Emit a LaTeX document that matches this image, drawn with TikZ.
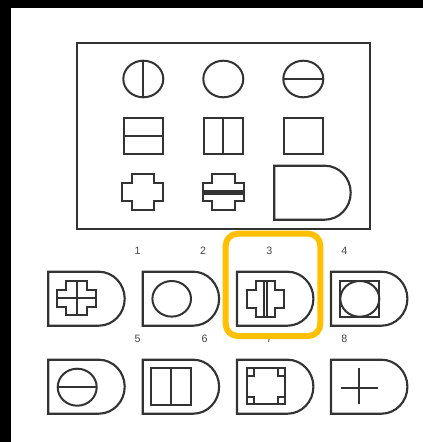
\documentclass[tikz,border=0pt]{standalone}
\usepackage{fontspec}
\setmainfont{Liberation Sans}
\definecolor{ink}{HTML}{333333}
\definecolor{lbl}{HTML}{444444}
\definecolor{hl}{HTML}{FFC000}
\newcommand{\DShp}[2]{\draw[shp] (#1,#2) -- ++(50.4,0) arc[start angle=-90,end angle=90,x radius=26,y radius=27] -- ++(-50.4,0) -- cycle;}
\newcommand{\CrossPath}[4]{(-#2,-#1) -- (#2,-#1) -- (#2,-#4) -- (#3,-#4) -- (#3,#4) -- (#2,#4) -- (#2,#1) -- (-#2,#1) -- (-#2,#4) -- (-#3,#4) -- (-#3,-#4) -- (-#2,-#4) -- cycle}
\begin{document}
\begin{tikzpicture}[x=0.75pt,y=-0.75pt,
  shp/.style={draw=ink,line width=1.6pt},
  inr/.style={draw=ink,line width=1.5pt},
  num/.style={font=\fontsize{8}{9}\selectfont,text=lbl,inner sep=0pt}]
\useasboundingbox (0,0) rectangle (423,442);
\fill[black] (0,0) rectangle (423,8);
\fill[black] (0,0) rectangle (11,442);
% top box
\draw[shp] (76.7,42.7) rectangle (369.7,228.7);
% row 1 circles
\draw[inr] (143.3,79) ellipse[x radius=20,y radius=18.3];
\draw[inr] (143.3,60.7) -- (143.3,97.3);
\draw[inr] (223.3,79) ellipse[x radius=20,y radius=18.3];
\draw[inr] (303.3,79) ellipse[x radius=20,y radius=18.3];
\draw[inr] (283.3,79) -- (323.3,79);
% row 2 squares
\draw[inr] (123.7,117.7) rectangle (163,154);
\draw[inr] (123.7,136) -- (163,136);
\draw[inr] (203.7,117.7) rectangle (243,154);
\draw[inr] (223.3,117.7) -- (223.3,154);
\draw[inr] (283.7,117.7) rectangle (323,154);
% row 3 crosses
\draw[inr,shift={(142.8,192)}] \CrossPath{18}{11.3}{20.5}{9.2};
\draw[inr,shift={(223.3,192)}] \CrossPath{18}{11.3}{20.5}{9.2};
\fill[ink] (202.8,190) rectangle (243.8,195);
\DShp{274.3}{165.7}
% bottom D shapes
\DShp{48.3}{271.7}
\DShp{142.7}{271.7}
\DShp{237}{271.7}
\DShp{331}{271.7}
\DShp{48.3}{359.7}
\DShp{142.7}{359.7}
\DShp{237}{359.7}
\DShp{331}{359.7}
% 1: cross with plus
\draw[inr,shift={(76.7,298)}] \CrossPath{17}{10.7}{19.4}{8.5};
\draw[inr] (76.7,281) -- (76.7,315);
\draw[inr] (57.3,298) -- (96.1,298);
% 2: circle
\draw[inr] (171.7,298.8) ellipse[x radius=19.3,y radius=17.8];
% 3: cross with double line
\draw[inr,shift={(265.3,298.8)}] \CrossPath{17.8}{9.7}{18.8}{8.8};
\draw[inr] (263.6,281) -- (263.6,316.6);
\draw[inr] (267.0,281) -- (267.0,316.6);
% 4: square with circle
\draw[inr] (340.3,281) rectangle (379.3,316.7);
\draw[inr] (359.8,298.85) ellipse[x radius=19.5,y radius=17.85];
% 5: circle with horizontal line
\draw[inr] (77.2,387.2) ellipse[x radius=19.5,y radius=18.5];
\draw[inr] (57.7,387.2) -- (96.7,387.2);
% 6: rectangle with vertical line
\draw[inr] (151.3,368.3) rectangle (190.7,405);
\draw[inr] (171,368.3) -- (171,405);
% 7: square with corner squares
\draw[inr] (246.7,368.3) rectangle (285,404.3);
\draw[inr] (246.7,368.3) rectangle ++(7.3,7.3);
\draw[inr] (285,368.3) rectangle ++(-7.3,7.3);
\draw[inr] (246.7,404.3) rectangle ++(7.3,-7.3);
\draw[inr] (285,404.3) rectangle ++(-7.3,-7.3);
% 8: plus
\draw[inr] (340.7,387.7) -- (378.3,387.7);
\draw[inr] (359.3,368.3) -- (359.3,404);
% labels
\node[num] (n1) at (137.7,251) {1};
\node[num] (n2) at (203,251) {2};
\node[num] (n3) at (269.3,251) {3};
\node[num] (n4) at (344.3,251) {4};
\node[num] (n5) at (137.7,339.3) {5};
\node[num] (n6) at (204.7,339.3) {6};
\node[num] (n7) at (269.3,339.3) {7};
\node[num] (n8) at (344.3,339.3) {8};
% highlight
\draw[draw=hl,line width=4.5pt,rounded corners=9pt] (225.7,233.7) rectangle (320.3,336);
\end{tikzpicture}
\end{document}
